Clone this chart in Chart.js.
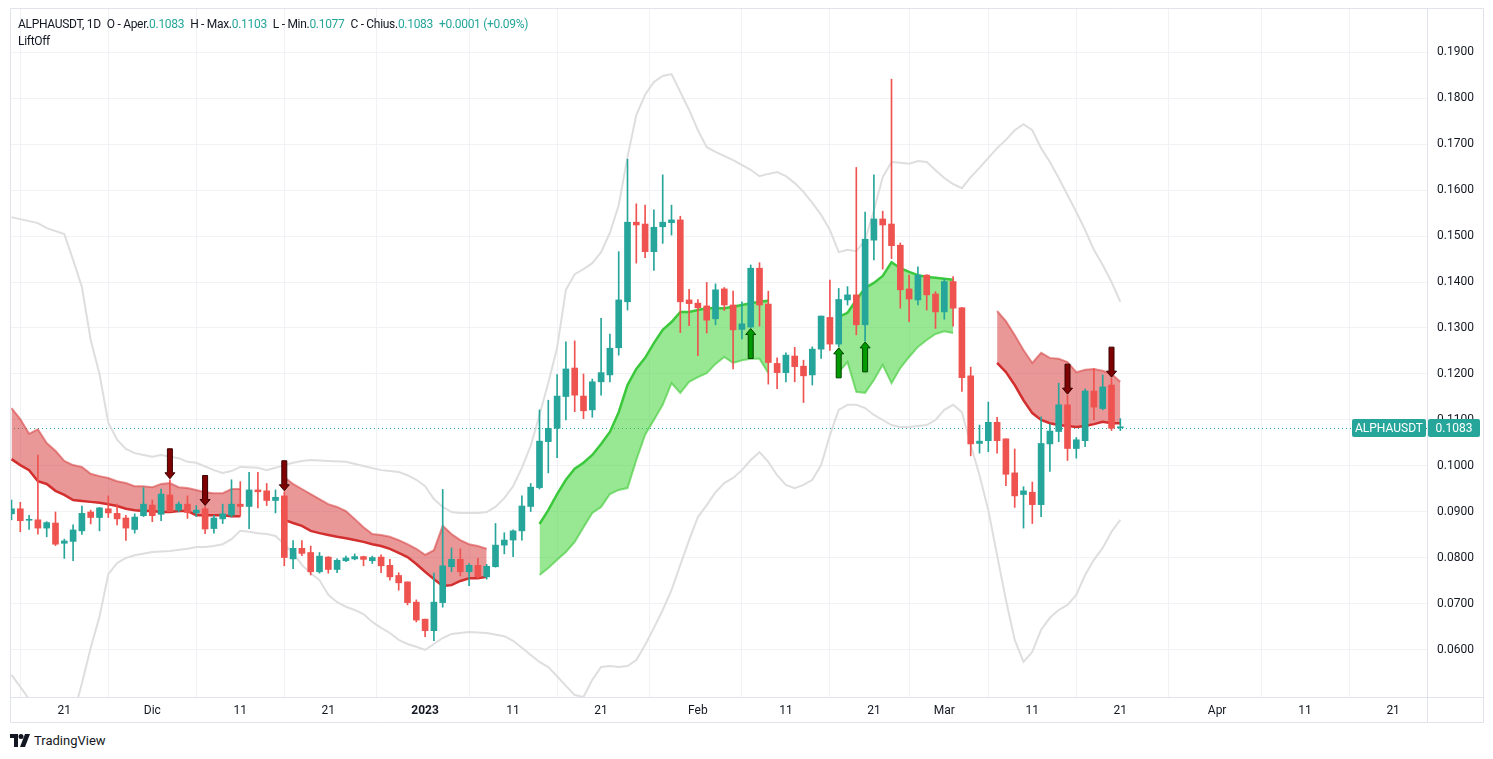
<!DOCTYPE html>
<html lang="it">
<head>
<meta charset="UTF-8">
<title>ALPHAUSDT 1D</title>
<script src="https://cdn.jsdelivr.net/npm/chart.js"></script>
<style>
  body { margin: 0; background: #fff; font-family: Roboto, "Liberation Sans", sans-serif; color: #131722; }
  #wrap { position: relative; width: 1493px; height: 759px; overflow: hidden; }
  #chart { position: absolute; left: 0; top: 0; }
  .legend { position: absolute; left: 18px; font-size: 12px; letter-spacing: -0.3px; white-space: nowrap; }
  .legend .v { color: #26a69a; }
  .legend .g { margin-left: 6px; }
  #l1 { top: 17px; }
  #l2 { top: 34px; }
  #brand { position: absolute; left: 10px; top: 733px; font-size: 13px; display: flex; align-items: center; gap: 3px; }
</style>
</head>
<body>
<div id="wrap">
  <canvas id="chart" width="1484" height="723"></canvas>
  <div class="legend" id="l1">ALPHAUSDT, 1D<span class="g">O - Aper.<span class="v">0.1083</span></span><span class="g">H - Max.<span class="v">0.1103</span></span><span class="g">L - Min.<span class="v">0.1077</span></span><span class="g">C - Chius.<span class="v">0.1083</span></span><span class="g v">+0.0001 (+0.09%)</span></div>
  <div class="legend" id="l2">LiftOff</div>
  <div id="brand">
    <svg width="21" height="13" viewBox="0 0 21 13"><path d="M0 0h8v13H4V4H0z" fill="#131722"/><circle cx="11" cy="2.5" r="2.5" fill="#131722"/><path d="M15 0h5l-5 13h-5z" fill="#131722"/></svg>
    <span>TradingView</span>
  </div>
</div>
<script>
// giorno 0 = 15 nov 2022, una candela al giorno fino al 21 mar 2023 (giorno 126)
const opens = [0.0896,0.0907,0.0882,0.0883,0.0865,0.0876,0.0832,0.0836,0.0859,0.0900,
  0.0888,0.0907,0.0897,0.0887,0.0862,0.0892,0.0915,0.0895,0.0937,0.0904,
  0.0917,0.0898,0.0907,0.0864,0.0885,0.0893,0.0917,0.0912,0.0948,0.0946,
  0.0925,0.0935,0.0798,0.0821,0.0812,0.0770,0.0802,0.0775,0.0794,0.0798,
  0.0803,0.0794,0.0802,0.0784,0.0762,0.0748,0.0704,0.0667,0.0642,0.0703,
  0.0781,0.0797,0.0770,0.0784,0.0759,0.0781,0.0828,0.0839,0.0859,0.0912,
  0.0953,0.1053,0.1082,0.1151,0.1213,0.1152,0.1122,0.1183,0.1198,0.1257,
  0.1357,0.1530,0.1526,0.1466,0.1520,0.1529,0.1535,0.1361,0.1354,0.1348,
  0.1320,0.1385,0.1350,0.1297,0.1302,0.1430,0.1352,0.1223,0.1203,0.1239,
  0.1217,0.1198,0.1254,0.1323,0.1265,0.1361,0.1372,0.1307,0.1491,0.1537,
  0.1526,0.1480,0.1385,0.1361,0.1415,0.1374,0.1335,0.1401,0.1344,0.1196,
  0.1049,0.1055,0.1095,0.1059,0.0985,0.0938,0.0943,0.0916,0.1048,0.1075,
  0.1133,0.1038,0.1055,0.1163,0.1125,0.1176,0.1083];
const highs = [0.0926,0.0921,0.0893,0.1024,0.0879,0.0900,0.0841,0.0872,0.0913,0.0904,
  0.0910,0.0935,0.0917,0.0893,0.0896,0.0953,0.0926,0.0950,0.0970,0.0922,
  0.0935,0.0914,0.0912,0.0893,0.0917,0.0970,0.0966,0.0986,0.0986,0.0962,
  0.0948,0.0944,0.0838,0.0838,0.0826,0.0812,0.0803,0.0798,0.0804,0.0809,
  0.0804,0.0804,0.0807,0.0797,0.0768,0.0748,0.0709,0.0667,0.0767,0.0949,
  0.0822,0.0820,0.0788,0.0799,0.0786,0.0875,0.0855,0.0861,0.0935,0.0962,
  0.1122,0.1143,0.1199,0.1270,0.1272,0.1200,0.1189,0.1321,0.1287,0.1466,
  0.1667,0.1570,0.1567,0.1557,0.1633,0.1567,0.1543,0.1384,0.1362,0.1399,
  0.1396,0.1388,0.1380,0.1357,0.1437,0.1442,0.1380,0.1235,0.1246,0.1258,
  0.1230,0.1259,0.1326,0.1404,0.1386,0.1390,0.1649,0.1552,0.1633,0.1554,
  0.1841,0.1485,0.1415,0.1433,0.1416,0.1379,0.1406,0.1412,0.1345,0.1215,
  0.1089,0.1139,0.1106,0.1059,0.1037,0.0955,0.0965,0.1107,0.1091,0.1180,
  0.1154,0.1062,0.1167,0.1212,0.1198,0.1191,0.1103];
const lows = [0.0883,0.0857,0.0862,0.0852,0.0846,0.0827,0.0799,0.0794,0.0851,0.0874,
  0.0859,0.0888,0.0872,0.0838,0.0854,0.0890,0.0879,0.0881,0.0900,0.0900,
  0.0886,0.0890,0.0853,0.0854,0.0875,0.0889,0.0891,0.0864,0.0909,0.0914,
  0.0898,0.0783,0.0777,0.0805,0.0763,0.0767,0.0767,0.0768,0.0792,0.0796,
  0.0783,0.0788,0.0768,0.0752,0.0730,0.0698,0.0661,0.0629,0.0620,0.0693,
  0.0770,0.0761,0.0740,0.0756,0.0754,0.0780,0.0809,0.0803,0.0839,0.0901,
  0.0950,0.0985,0.1018,0.1100,0.1118,0.1103,0.1106,0.1154,0.1183,0.1241,
  0.1339,0.1441,0.1453,0.1425,0.1484,0.1502,0.1290,0.1305,0.1240,0.1289,
  0.1307,0.1338,0.1211,0.1276,0.1301,0.1304,0.1178,0.1168,0.1183,0.1183,
  0.1138,0.1176,0.1234,0.1251,0.1259,0.1350,0.1285,0.1272,0.1448,0.1428,
  0.1451,0.1343,0.1314,0.1350,0.1339,0.1299,0.1319,0.1304,0.1162,0.1022,
  0.1028,0.1031,0.1028,0.0957,0.0910,0.0865,0.0875,0.0890,0.0988,0.1053,
  0.1012,0.1017,0.1042,0.1100,0.1122,0.1077,0.1077];
const closes = [0.0907,0.0881,0.0884,0.0865,0.0877,0.0830,0.0837,0.0861,0.0897,0.0888,
  0.0909,0.0898,0.0885,0.0865,0.0889,0.0917,0.0892,0.0939,0.0901,0.0917,
  0.0899,0.0904,0.0863,0.0887,0.0896,0.0917,0.0912,0.0948,0.0944,0.0925,
  0.0932,0.0801,0.0821,0.0810,0.0770,0.0804,0.0775,0.0795,0.0800,0.0803,
  0.0797,0.0801,0.0783,0.0759,0.0746,0.0703,0.0665,0.0642,0.0704,0.0783,
  0.0797,0.0770,0.0784,0.0759,0.0782,0.0828,0.0839,0.0859,0.0913,0.0954,
  0.1054,0.1082,0.1152,0.1211,0.1154,0.1120,0.1183,0.1203,0.1256,0.1361,
  0.1530,0.1524,0.1466,0.1519,0.1530,0.1535,0.1357,0.1353,0.1344,0.1317,
  0.1383,0.1350,0.1296,0.1309,0.1430,0.1350,0.1225,0.1203,0.1241,0.1216,
  0.1196,0.1254,0.1326,0.1265,0.1362,0.1372,0.1307,0.1493,0.1537,0.1524,
  0.1479,0.1383,0.1363,0.1415,0.1372,0.1335,0.1401,0.1343,0.1192,0.1048,
  0.1054,0.1095,0.1055,0.0982,0.0935,0.0946,0.0916,0.1049,0.1076,0.1133,
  0.1038,0.1057,0.1163,0.1128,0.1172,0.1082,0.1083];

// bande di Bollinger (giorno, valore)
const bbUpperDays = [0,3,4,6,7,8,9,10,11,12,13,14,15,16,17,19,20,21,23,24,25,26,28,29,30,31,32,33,34,36,38,40,42,43,44,45,46,47,48,49,50,51,53,54,55,56,57,
  58,59,60,61,62,63,64,65,66,67,68,69,70,71,72,73,74,75,76,77,78,79,80,82,84,85,86,87,88,89,90,91,92,93,94,95,96,97,98,99,100,
  101,102,103,104,105,106,107,108,109,110,111,112,113,114,115,116,117,118,119,120,121,122,123,124,125,126];
const bbUpper = [0.1541,0.1528,0.1517,0.1504,0.1448,0.1389,0.1274,0.1200,0.1094,0.1057,0.1037,0.1028,0.1024,0.1020,0.1024,0.1017,0.1009,0.1007,0.0991,0.0985,0.0989,0.0998,0.0996,0.0991,0.0996,0.1002,0.1007,0.1011,0.1013,0.1011,0.1009,0.1000,0.0991,0.0989,0.0987,0.0980,0.0970,0.0956,0.0928,0.0911,0.0900,0.0898,0.0898,0.0900,0.0911,0.0930,0.0956,
  0.0996,0.1044,0.1111,0.1181,0.1257,0.1383,0.1417,0.1428,0.1441,0.1465,0.1507,0.1567,0.1672,0.1763,0.1807,0.1835,0.1848,0.1852,0.1813,0.1774,0.1730,0.1693,0.1683,0.1665,0.1644,0.1630,0.1635,0.1639,0.1630,0.1615,0.1596,0.1572,0.1546,0.1513,0.1465,0.1470,0.1467,0.1491,0.1556,0.1628,0.1661,
  0.1659,0.1657,0.1663,0.1661,0.1643,0.1626,0.1613,0.1604,0.1628,0.1648,0.1670,0.1691,0.1709,0.1730,0.1743,0.1730,0.1691,0.1661,0.1626,0.1589,0.1552,0.1513,0.1470,0.1437,0.1400,0.1357];
const bbLowerDays = [0,1,2,4,6,7,8,9,10,11,12,13,14,16,18,20,21,22,23,24,25,26,27,28,29,30,31,32,33,34,35,36,37,38,39,40,41,42,43,44,45,46,47,48,49,50,52,54,56,57,58,59,60,61,62,63,64,65,66,67,68,69,70,
  71,72,73,74,75,76,77,78,79,80,81,82,83,84,85,86,87,88,89,90,91,92,93,94,95,96,97,98,99,100,101,102,103,104,105,106,107,108,109,110,
  111,112,113,114,115,116,117,118,119,120,121,122,123,124,125,126];
const bbLower = [0.0546,0.0520,0.0493,0.0460,0.0450,0.0457,0.0527,0.0605,0.0672,0.0765,0.0789,0.0800,0.0806,0.0813,0.0815,0.0820,0.0824,0.0824,0.0826,0.0830,0.0841,0.0859,0.0857,0.0854,0.0852,0.0848,0.0830,0.0811,0.0785,0.0767,0.0752,0.0720,0.0704,0.0694,0.0687,0.0678,0.0661,0.0648,0.0637,0.0622,0.0613,0.0607,0.0600,0.0613,0.0626,0.0635,0.0639,0.0637,0.0630,0.0620,0.0605,0.0589,0.0574,0.0563,0.0543,0.0522,0.0502,0.0498,0.0535,0.0563,0.0565,0.0563,0.0565,
  0.0578,0.0611,0.0648,0.0687,0.0730,0.0785,0.0839,0.0889,0.0915,0.0943,0.0963,0.0974,0.0991,0.1013,0.1030,0.1009,0.0980,0.0959,0.0952,0.0959,0.0970,0.1002,0.1067,0.1122,0.1133,0.1133,0.1126,0.1111,0.1100,0.1089,0.1085,0.1085,0.1087,0.1089,0.1100,0.1122,0.1133,0.1117,0.1046,0.0980,
  0.0904,0.0806,0.0709,0.0622,0.0574,0.0596,0.0644,0.0670,0.0687,0.0698,0.0720,0.0763,0.0796,0.0822,0.0857,0.0883];

// nuvola LiftOff: bordo sottile (edge) e linea base spessa (base)
const redAStart = 0;
const redAEdge = [0.1126,0.1102,0.1070,0.1080,0.1050,0.1033,0.1011,0.1002,0.0998,0.0983,0.0978,0.0974,0.0967,0.0963,0.0956,0.0956,0.0954,0.0961,0.0963,0.0954,0.0952,0.0948,0.0943,0.0941,0.0941,0.0950,0.0950];
const redABase = [0.1015,0.1002,0.0991,0.0967,0.0961,0.0946,0.0937,0.0926,0.0924,0.0922,0.0920,0.0917,0.0913,0.0907,0.0904,0.0902,0.0902,0.0900,0.0900,0.0902,0.0902,0.0893,0.0893,0.0893,0.0893,0.0891,0.0891];
const redBStart = 31;
const redBEdge = [0.0976,0.0961,0.0950,0.0939,0.0928,0.0917,0.0911,0.0902,0.0885,0.0867,0.0852,0.0850,0.0846,0.0839,0.0830,0.0820,0.0807,0.0817,0.0870,0.0852,0.0839,0.0830,0.0826,0.0820];
const redBBase = [0.0883,0.0876,0.0870,0.0859,0.0854,0.0850,0.0846,0.0843,0.0839,0.0835,0.0830,0.0826,0.0820,0.0811,0.0802,0.0787,0.0770,0.0754,0.0739,0.0741,0.0750,0.0756,0.0756,0.0759];
const greenAStart = 60;
const greenABase = [0.0874,0.0904,0.0939,0.0970,0.0994,0.1007,0.1024,0.1048,0.1074,0.1117,0.1176,0.1211,0.1235,0.1267,0.1296,0.1313,0.1335,0.1335,0.1339,0.1343,0.1343,0.1343,0.1346,0.1350,0.1354,0.1357,0.1359];
const greenAEdge = [0.0763,0.0778,0.0796,0.0813,0.0835,0.0867,0.0898,0.0911,0.0939,0.0948,0.0952,0.1013,0.1068,0.1100,0.1133,0.1180,0.1159,0.1183,0.1193,0.1202,0.1222,0.1237,0.1224,0.1230,0.1233,0.1233,0.1202];
const greenBStart = 94;
const greenBBase = [0.1324,0.1333,0.1361,0.1387,0.1398,0.1413,0.1443,0.1430,0.1422,0.1415,0.1411,0.1409,0.1407,0.1405];
const greenBEdge = [0.1204,0.1226,0.1161,0.1159,0.1187,0.1220,0.1180,0.1213,0.1237,0.1259,0.1274,0.1287,0.1293,0.1289];
const redCStart = 112;
const redCEdge = [0.1337,0.1315,0.1285,0.1252,0.1224,0.1246,0.1235,0.1233,0.1226,0.1204,0.1209,0.1211,0.1207,0.1200,0.1183];
const redCBase = [0.1224,0.1204,0.1176,0.1143,0.1115,0.1100,0.1093,0.1089,0.1087,0.1085,0.1087,0.1091,0.1096,0.1093,0.1093];

// segnali
const sellSignals = [18, 22, 31, 120, 125];
const buySignals = [84, 94, 97];

const lastPrice = 0.1083;
const tickDays = [6,16,26,36,47,57,67,78,88,98,106,116,126,137,147,157];
const tickLabels = ['21','Dic','11','21','2023','11','21','Feb','11','21','Mar','11','21','Apr','11','21'];
const priceTicks = [0.06,0.07,0.08,0.09,0.10,0.11,0.12,0.13,0.14,0.15,0.16,0.17,0.18,0.19];

const UP = '#26a69a', DOWN = '#ef5350';

const candleColors = closes.map((c, i) => c >= opens[i] ? UP : DOWN);
const wickData = highs.map((h, i) => ({ x: i, y: [lows[i], h] }));
const bodyData = opens.map((o, i) => ({ x: i, y: [Math.min(o, closes[i]), Math.max(o, closes[i])] }));

function series(start, vals) {
  return vals.map((v, k) => ({ x: start + k, y: v }));
}
function pairs(days, vals) {
  return days.map((d, k) => ({ x: d, y: vals[k] }));
}

const RED_FILL = 'rgba(214,48,49,0.5)', GREEN_FILL = 'rgba(50,210,40,0.5)';
function band(start, edge, base, fillColor, edgeColor, baseColor) {
  return [
    { type: 'line', data: series(start, edge), borderColor: edgeColor, borderWidth: 2, pointRadius: 0,
      fill: '+1', backgroundColor: fillColor, order: 8 },
    { type: 'line', data: series(start, base), borderColor: baseColor, borderWidth: 2.5, pointRadius: 0,
      fill: false, order: 7 }
  ];
}

const overlay = {
  id: 'overlay',
  beforeDatasetsDraw(chart) {
    const { ctx, chartArea: a, scales: { y } } = chart;
    const py = Math.round(y.getPixelForValue(lastPrice)) + 0.5;
    ctx.save();
    ctx.strokeStyle = UP;
    ctx.lineWidth = 1;
    ctx.setLineDash([1, 3]);
    ctx.beginPath();
    ctx.moveTo(a.left, py);
    ctx.lineTo(a.right, py);
    ctx.stroke();
    ctx.restore();
  },
  afterDatasetsDraw(chart) {
    const { ctx, scales: { x, y } } = chart;
    const arrow = (d, dir) => {
      const px = x.getPixelForValue(d);
      const tip = dir > 0 ? y.getPixelForValue(lows[d]) + 1 : y.getPixelForValue(highs[d]) - 1;
      const end = tip + dir * 30, neck = tip + dir * 6;
      ctx.beginPath();
      ctx.moveTo(px, tip);
      ctx.lineTo(px + 5, neck);
      ctx.lineTo(px + 2.5, neck);
      ctx.lineTo(px + 2.5, end);
      ctx.lineTo(px - 2.5, end);
      ctx.lineTo(px - 2.5, neck);
      ctx.lineTo(px - 5, neck);
      ctx.closePath();
      ctx.fill();
      ctx.stroke();
    };
    ctx.save();
    ctx.lineWidth = 1;
    ctx.fillStyle = '#7f0000'; ctx.strokeStyle = '#3a0000';
    sellSignals.forEach(d => arrow(d, -1));
    ctx.fillStyle = '#009a00'; ctx.strokeStyle = '#004400';
    buySignals.forEach(d => arrow(d, 1));
    ctx.restore();
  },
  afterDraw(chart) {
    const { ctx, chartArea: a, scales: { y } } = chart;
    const W = chart.width, H = chart.height;
    ctx.save();
    // cornice
    ctx.strokeStyle = '#e0e3eb';
    ctx.lineWidth = 1;
    ctx.beginPath();
    ctx.rect(a.left + 0.5, a.top - 0.5, W - a.left - 1, H - a.top);
    ctx.moveTo(a.right + 0.5, a.top);
    ctx.lineTo(a.right + 0.5, H);
    ctx.moveTo(a.left, a.bottom + 0.5);
    ctx.lineTo(W, a.bottom + 0.5);
    ctx.stroke();
    // etichetta ultimo prezzo
    const py = Math.round(y.getPixelForValue(lastPrice));
    ctx.fillStyle = UP;
    ctx.beginPath();
    ctx.roundRect(a.right - 75, py - 9, 74, 18, 2);
    ctx.roundRect(a.right + 1, py - 9, 52, 18, 2);
    ctx.fill();
    ctx.fillStyle = '#fff';
    ctx.font = '12px Roboto, "Liberation Sans", sans-serif';
    ctx.textBaseline = 'middle';
    ctx.textAlign = 'center';
    ctx.fillText('ALPHAUSDT', a.right - 38, py + 1);
    ctx.fillText(lastPrice.toFixed(4), a.right + 27, py + 1);
    ctx.restore();
  }
};

Chart.defaults.font.family = 'Roboto, "Liberation Sans", sans-serif';
Chart.defaults.font.size = 12;
Chart.defaults.color = '#131722';

new Chart(document.getElementById('chart'), {
  type: 'bar',
  data: {
    datasets: [
      { type: 'line', data: pairs(bbUpperDays, bbUpper), borderColor: '#dedede', borderWidth: 2, pointRadius: 0, fill: false, order: 10 },
      { type: 'line', data: pairs(bbLowerDays, bbLower), borderColor: '#dedede', borderWidth: 2, pointRadius: 0, fill: false, order: 10 },
      ...band(redAStart, redAEdge, redABase, RED_FILL, 'rgba(214,60,60,0.55)', '#d32f2f'),
      ...band(redBStart, redBEdge, redBBase, RED_FILL, 'rgba(214,60,60,0.55)', '#d32f2f'),
      ...band(greenAStart, greenAEdge, greenABase, GREEN_FILL, 'rgba(60,200,50,0.6)', '#3cc83c'),
      ...band(greenBStart, greenBEdge, greenBBase, GREEN_FILL, 'rgba(60,200,50,0.6)', '#3cc83c'),
      ...band(redCStart, redCEdge, redCBase, RED_FILL, 'rgba(214,60,60,0.55)', '#d32f2f'),
      { data: wickData, backgroundColor: candleColors, barThickness: 1, grouped: false, order: 2 },
      { data: bodyData, backgroundColor: candleColors, barThickness: 6, grouped: false, minBarLength: 1, order: 1 }
    ]
  },
  options: {
    responsive: false,
    animation: false,
    layout: { padding: { left: 10, top: 9, right: 0, bottom: 0 } },
    plugins: { legend: { display: false }, tooltip: { enabled: false } },
    scales: {
      x: {
        type: 'linear', min: -0.17, max: 160.85, offset: false,
        afterBuildTicks: s => { s.ticks = tickDays.map(v => ({ value: v })); },
        afterFit: s => { s.height = 26; s.paddingLeft = 0; s.paddingRight = 0; },
        grid: { color: '#f0f2f6', drawTicks: false },
        border: { display: false },
        ticks: {
          autoSkip: false, maxRotation: 0, padding: 7, color: '#131722',
          font: c => ({ size: 12, weight: c.tick && c.tick.value === 47 ? 'bold' : 'normal' }),
          callback: (v, i) => tickLabels[i]
        }
      },
      y: {
        position: 'right', min: 0.04978, max: 0.19935,
        afterBuildTicks: s => { s.ticks = priceTicks.map(v => ({ value: v })); },
        afterFit: s => { s.width = 57; s.paddingTop = 0; s.paddingBottom = 0; },
        grid: { color: '#f0f2f6', drawTicks: false },
        border: { display: false },
        ticks: { padding: 10, color: '#131722', callback: v => v.toFixed(4) }
      }
    }
  },
  plugins: [overlay]
});
</script>
</body>
</html>
